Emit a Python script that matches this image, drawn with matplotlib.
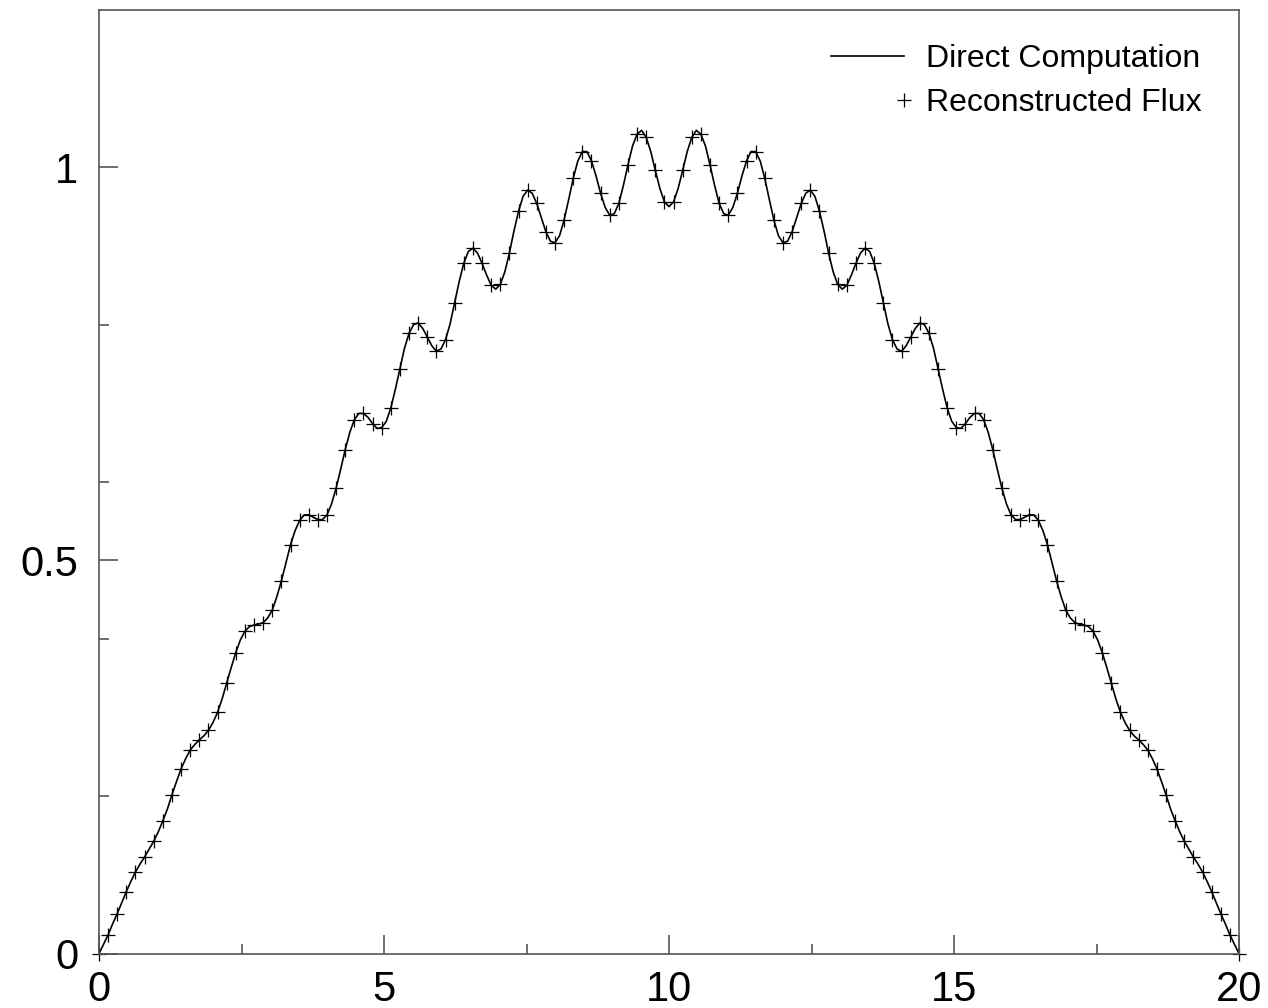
import numpy as np
import matplotlib
matplotlib.use('Agg')
import matplotlib.pyplot as plt
from matplotlib.legend_handler import HandlerLine2D

plt.rcParams['font.family'] = ['Liberation Sans', 'DejaVu Sans']

x_direct = np.linspace(0, 20, 251)
flux_direct = [
    0.000, 0.012, 0.024, 0.038, 0.051, 0.065, 0.079, 0.092, 0.104, 0.114,
    0.123, 0.133, 0.143, 0.155, 0.169, 0.184, 0.202, 0.219, 0.235, 0.248,
    0.259, 0.266, 0.272, 0.277, 0.284, 0.294, 0.307, 0.324, 0.344, 0.364,
    0.383, 0.399, 0.410, 0.416, 0.418, 0.419, 0.421, 0.427, 0.437, 0.454,
    0.474, 0.497, 0.520, 0.538, 0.551, 0.558, 0.558, 0.555, 0.552, 0.552,
    0.558, 0.572, 0.592, 0.616, 0.641, 0.663, 0.679, 0.687, 0.687, 0.682,
    0.674, 0.668, 0.669, 0.677, 0.694, 0.718, 0.744, 0.770, 0.789, 0.800,
    0.802, 0.795, 0.784, 0.773, 0.766, 0.769, 0.781, 0.801, 0.828, 0.855,
    0.878, 0.893, 0.897, 0.891, 0.878, 0.863, 0.850, 0.845, 0.851, 0.867,
    0.891, 0.919, 0.944, 0.963, 0.971, 0.967, 0.954, 0.936, 0.918, 0.906,
    0.904, 0.913, 0.933, 0.959, 0.986, 1.008, 1.020, 1.020, 1.008, 0.989,
    0.967, 0.949, 0.939, 0.941, 0.954, 0.977, 1.003, 1.027, 1.042, 1.047,
    1.038, 1.020, 0.996, 0.973, 0.956, 0.950,
    0.956, 0.973, 0.996, 1.020, 1.038, 1.047, 1.042, 1.027, 1.003, 0.977,
    0.954, 0.941, 0.939, 0.949, 0.967, 0.989, 1.008, 1.020, 1.020, 1.008,
    0.986, 0.959, 0.933, 0.913, 0.904, 0.906, 0.918, 0.936, 0.954, 0.967,
    0.971, 0.963, 0.944, 0.919, 0.891, 0.867, 0.851, 0.845, 0.850, 0.863,
    0.878, 0.891, 0.897, 0.893, 0.878, 0.855, 0.828, 0.801, 0.781, 0.769,
    0.766, 0.773, 0.784, 0.795, 0.802, 0.800, 0.789, 0.770, 0.744, 0.718,
    0.694, 0.677, 0.669, 0.668, 0.674, 0.682, 0.687, 0.687, 0.679, 0.663,
    0.641, 0.616, 0.592, 0.572, 0.558, 0.552, 0.552, 0.555, 0.558, 0.558,
    0.551, 0.538, 0.520, 0.497, 0.474, 0.454, 0.437, 0.427, 0.421, 0.419,
    0.418, 0.416, 0.410, 0.399, 0.383, 0.364, 0.344, 0.324, 0.307, 0.294,
    0.284, 0.277, 0.272, 0.266, 0.259, 0.248, 0.235, 0.219, 0.202, 0.184,
    0.169, 0.155, 0.143, 0.133, 0.123, 0.114, 0.104, 0.092, 0.079, 0.065,
    0.051, 0.038, 0.024, 0.012, 0.000,
]

# Reconstructed flux, one marker every 0.16
x_recon = np.linspace(0, 20, 126)
flux_recon = [
    0.000, 0.024, 0.051, 0.079, 0.104, 0.123, 0.143, 0.169, 0.202, 0.235,
    0.259, 0.272, 0.284, 0.307, 0.344, 0.383, 0.410, 0.418, 0.421, 0.437,
    0.474, 0.520, 0.551, 0.558, 0.552, 0.558, 0.592, 0.641, 0.679, 0.687,
    0.674, 0.669, 0.694, 0.744, 0.789, 0.802, 0.784, 0.766, 0.781, 0.828,
    0.878, 0.897, 0.878, 0.850, 0.851, 0.891, 0.944, 0.971, 0.954, 0.918,
    0.904, 0.933, 0.986, 1.020, 1.008, 0.967, 0.939, 0.954, 1.003, 1.042,
    1.038, 0.996, 0.956,
    0.956, 0.996, 1.038, 1.042, 1.003, 0.954, 0.939, 0.967, 1.008, 1.020,
    0.986, 0.933, 0.904, 0.918, 0.954, 0.971, 0.944, 0.891, 0.851, 0.850,
    0.878, 0.897, 0.878, 0.828, 0.781, 0.766, 0.784, 0.802, 0.789, 0.744,
    0.694, 0.669, 0.674, 0.687, 0.679, 0.641, 0.592, 0.558, 0.552, 0.558,
    0.551, 0.520, 0.474, 0.437, 0.421, 0.418, 0.410, 0.383, 0.344, 0.307,
    0.284, 0.272, 0.259, 0.235, 0.202, 0.169, 0.143, 0.123, 0.104, 0.079,
    0.051, 0.024, 0.000,
]

x_ticks = [0, 5, 10, 15, 20]
x_minor = [2.5, 7.5, 12.5, 17.5]
y_ticks = [0, 0.5, 1]
y_ticklabels = ['0', '0.5', '1']
y_minor = [0.2, 0.4, 0.6, 0.8]


class RightMarker(HandlerLine2D):
    # put the legend point at the right end of the sample, like the key in the original
    def get_xdata(self, legend, xdescent, ydescent, width, height, fontsize):
        w = -xdescent + width
        return [w, w], [w]


fig = plt.figure(figsize=(12.68, 10.08), dpi=100)
ax = fig.add_axes([99 / 1268, 54.3 / 1008, 1140 / 1268, 943.7 / 1008])

line, = ax.plot(x_direct, flux_direct, color='black', lw=1.2,
                label='Direct Computation')
pts, = ax.plot(x_recon, flux_recon, ls='none', marker='+', ms=10, mew=0.9,
               color='black', clip_on=False, label='Reconstructed Flux')

ax.set_xlim(0, 20)
ax.set_ylim(0, 1.2)
ax.set_xticks(x_ticks)
ax.set_xticks(x_minor, minor=True)
ax.set_yticks(y_ticks)
ax.set_yticklabels(y_ticklabels)
ax.set_yticks(y_minor, minor=True)

for s in ax.spines.values():
    s.set_color('#555555')
    s.set_linewidth(1.2)
ax.tick_params(which='both', direction='in', color='#555555', width=1.2,
               labelsize=30, top=False, right=False)
ax.tick_params(which='major', length=14)
ax.tick_params(which='minor', length=7)
ax.tick_params(axis='x', which='major', pad=12)
ax.tick_params(axis='y', which='major', pad=15)

ax.legend(handles=[line, pts], loc='upper right', frameon=False,
          fontsize=23, handlelength=2.3, handletextpad=0.7,
          labelspacing=0.45, borderaxespad=0.6,
          bbox_to_anchor=(1 - 5 / 1140, 1 - 2 / 943.7),
          handler_map={pts: RightMarker(numpoints=1)})

fig.savefig('out.png')
plt.close(fig)
